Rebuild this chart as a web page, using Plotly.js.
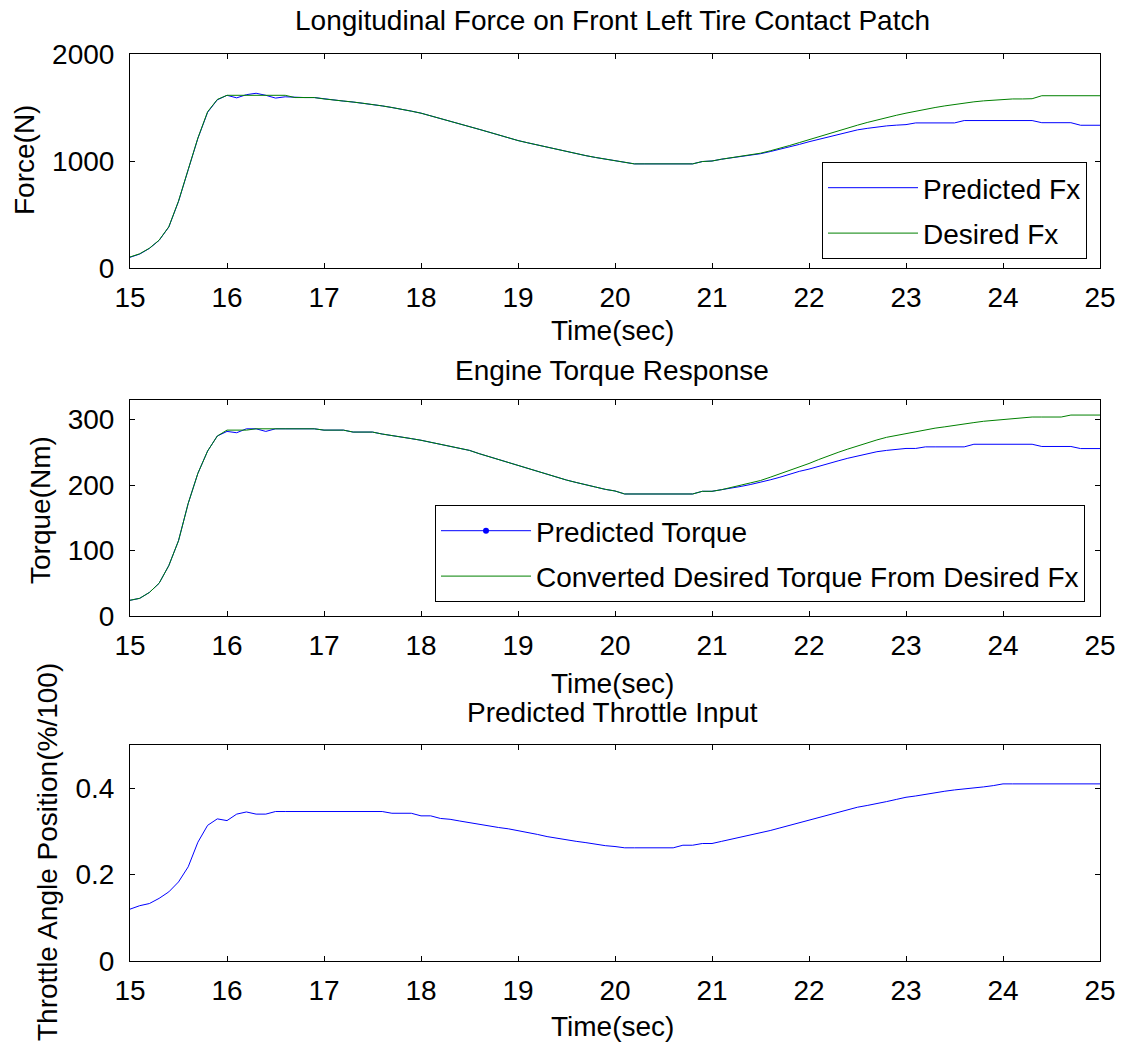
<!DOCTYPE html>
<html><head><meta charset="utf-8">
<script src="https://cdn.plot.ly/plotly-3.0.1.min.js"></script>
<style>html,body{margin:0;padding:0;background:#fff}</style>
</head><body><div id="chart" style="width:1123px;height:1057px"></div>
<script>
const time = [15.0,15.1,15.2,15.3,15.4,15.5,15.6,15.7,15.8,15.9,
16.0,16.1,16.2,16.3,16.4,16.5,16.6,16.7,16.8,16.9,
17.0,17.1,17.2,17.3,17.4,17.5,17.6,17.7,17.8,17.9,
18.0,18.1,18.2,18.3,18.4,18.5,18.6,18.7,18.8,18.9,
19.0,19.1,19.2,19.3,19.4,19.5,19.6,19.7,19.8,19.9,
20.0,20.1,20.2,20.3,20.4,20.5,20.6,20.7,20.8,20.9,
21.0,21.1,21.2,21.3,21.4,21.5,21.6,21.7,21.8,21.9,
22.0,22.1,22.2,22.3,22.4,22.5,22.6,22.7,22.8,22.9,
23.0,23.1,23.2,23.3,23.4,23.5,23.6,23.7,23.8,23.9,
24.0,24.1,24.2,24.3,24.4,24.5,24.6,24.7,24.8,24.9,25.0];

const predictedFx = [100,130,183,258,383,622,918,1212,1455,1572,
1614,1590,1620,1633,1614,1588,1600,1593,1593,1593,
1580,1572,1560,1551,1540,1530,1515,1500,1485,1466,
1447,1423,1398,1373,1348,1322,1296,1270,1243,1217,
1191,1170,1149,1129,1108,1088,1068,1050,1033,1017,
1004,985,973,973,973,973,973,973,973,995,
1000,1017,1030,1038,1050,1068,1088,1108,1130,1155,
1180,1203,1225,1248,1270,1291,1305,1318,1328,1335,
1340,1356,1356,1356,1356,1356,1378,1378,1378,1378,
1378,1378,1378,1378,1358,1358,1358,1358,1334,1334,1334];

const desiredFx = [103,133,185,260,385,625,920,1215,1460,1575,
1614,1614,1614,1614,1614,1614,1614,1593,1593,1593,
1580,1572,1560,1551,1540,1530,1515,1500,1485,1466,
1447,1423,1398,1373,1348,1322,1296,1270,1243,1217,
1191,1170,1149,1129,1108,1088,1068,1050,1033,1017,
1004,985,973,973,973,973,973,973,973,995,
1000,1017,1030,1040,1055,1073,1095,1118,1145,1172,
1200,1228,1255,1282,1308,1335,1360,1384,1406,1427,
1447,1466,1484,1500,1515,1530,1542,1553,1562,1570,
1577,1580,1580,1582,1610,1610,1610,1610,1610,1610,1610];

const predictedTorque = [24,27,36,50,77,115,172,218,252,275,
282,280,286,286,282,286,286,286,286,286,
284,284,284,281,281,281,278,276,274,271,
268.5,265.5,262.5,259.5,256,253,248,243.5,239,234,
229.5,225,221,216,212,207.7,204,200,197,193.5,
191,186.4,186.4,186.4,186.4,186.4,186.4,186.4,186.4,190.5,
190.5,193,195,198,201,204,208,212,217,221,
224.4,229,233,237,241,244.7,248,251,253,255,
256,256,258.4,258.4,258.4,258.4,258.4,262.4,262.4,262.4,
262.4,262.4,262.4,262.4,259,259,259,259,255.8,255.8,255.8];

const desiredTorque = [24,27,36,50,77,115,172,218,252,275,
284,284,284,286,286,286,286,286,286,286,
284,284,284,281,281,281,278,276,274,271,
268.5,265.5,262.5,259.5,256,253,248,243.5,239,234,
229.5,225,221,216,212,207.7,204,200,197,193.5,
191,186.4,186.4,186.4,186.4,186.4,186.4,186.4,186.4,190.5,
190.5,193,197,200,203.5,207,212,217,223,228,
233,239,245,250,255,260,264.5,269,273,276,
279,282,285,287,289,291.5,293.5,295.5,297.5,299,
300.5,302,303,304,304,304,304,307,307,307,307];

const throttle = [0.120,0.128,0.133,0.145,0.160,0.183,0.218,0.275,0.314,0.329,
0.325,0.340,0.345,0.340,0.340,0.346,0.346,0.346,0.346,0.346,
0.346,0.346,0.346,0.346,0.346,0.346,0.346,0.342,0.342,0.342,
0.336,0.336,0.330,0.328,0.324,0.320,0.316,0.313,0.309,0.306,
0.302,0.297,0.293,0.288,0.284,0.280,0.277,0.274,0.270,0.267,
0.265,0.262,0.262,0.262,0.262,0.262,0.262,0.268,0.268,0.272,
0.272,0.277,0.282,0.286,0.291,0.296,0.302,0.308,0.314,0.320,
0.326,0.332,0.338,0.344,0.350,0.356,0.360,0.364,0.369,0.374,
0.379,0.382,0.386,0.389,0.393,0.396,0.398,0.401,0.403,0.406,
0.410,0.410,0.410,0.410,0.410,0.410,0.410,0.410,0.410,0.410,0.410];

const xTicks = [15,16,17,18,19,20,21,22,23,24,25];
const forceTicks = [0,1000,2000];
const torqueTicks = [0,100,200,300];
const throttleTicks = [0,0.2,0.4];

const BLUE = 'rgb(0,0,255)';
const GREEN = 'rgb(0,128,0)';
const FONT = 'Liberation Sans, Arial, sans-serif';
const FS = 28;

const traces = [
  {x: time, y: predictedFx, type:'scatter', mode:'lines', name:'Predicted Fx',
   line:{color:BLUE, width:1}, xaxis:'x', yaxis:'y', legend:'legend', legendgroup:'a'},
  {x: time, y: desiredFx, type:'scatter', mode:'lines', name:'Desired Fx',
   line:{color:GREEN, width:1}, xaxis:'x', yaxis:'y', legend:'legend', legendgroup:'b'},
  {x: time, y: predictedTorque, type:'scatter', mode:'lines', name:'Predicted Torque',
   line:{color:BLUE, width:1}, xaxis:'x2', yaxis:'y2', showlegend:false},
  {x: [null], y: [null], type:'scatter', mode:'lines+markers', name:'Predicted Torque',
   line:{color:BLUE, width:1}, marker:{color:BLUE, size:6}, xaxis:'x2', yaxis:'y2',
   legend:'legend2', legendgroup:'c'},
  {x: time, y: desiredTorque, type:'scatter', mode:'lines', name:'Converted Desired Torque From Desired Fx',
   line:{color:GREEN, width:1}, xaxis:'x2', yaxis:'y2', legend:'legend2', legendgroup:'d'},
  {x: time, y: throttle, type:'scatter', mode:'lines', name:'Throttle',
   line:{color:BLUE, width:1}, xaxis:'x3', yaxis:'y3', showlegend:false}
];

const W = 1123, H = 1057;
const xd = [130/W, 1100/W];
function yd(top, bottom){ return [(H-bottom)/H, (H-top)/H]; }

const base = {showline:true, linecolor:'black', linewidth:1, mirror:'ticks',
  ticks:'inside', ticklen:5, tickcolor:'black', tickwidth:1, showgrid:false, zeroline:false,
  tickfont:{family:FONT, size:FS, color:'black'}, fixedrange:true};

const xbase = Object.assign({}, base, {range:[15,25], tickvals:xTicks, ticklabelstandoff:4});
const ybase = Object.assign({}, base, {ticklabelstandoff:9});

function ann(text, xpx, ypx, angle){
  return {text:text, xref:'paper', yref:'paper', x:xpx/W, y:(H-ypx)/H,
    xanchor:'center', yanchor:'middle', showarrow:false, textangle:angle||0,
    font:{family:FONT, size:FS, color:'black'}};
}

const legendBase = {bordercolor:'black', borderwidth:1, bgcolor:'white',
  font:{family:FONT, size:FS, color:'black'}, xanchor:'right', yanchor:'bottom',
  itemwidth:90, tracegroupgap:6, traceorder:'grouped', itemclick:false, itemdoubleclick:false};

const layout = {
  width: W, height: H, margin:{l:0,r:0,t:0,b:0},
  paper_bgcolor:'white', plot_bgcolor:'white', showlegend:true,
  font:{family:FONT, size:FS, color:'black'},
  xaxis: Object.assign({}, xbase, {domain:xd, anchor:'y'}),
  yaxis: Object.assign({}, ybase, {domain:yd(54,268), range:[0,2000], tickvals:forceTicks, anchor:'x'}),
  xaxis2: Object.assign({}, xbase, {domain:xd, anchor:'y2'}),
  yaxis2: Object.assign({}, ybase, {domain:yd(400,616), range:[0,330], tickvals:torqueTicks, anchor:'x2'}),
  xaxis3: Object.assign({}, xbase, {domain:xd, anchor:'y3'}),
  yaxis3: Object.assign({}, ybase, {domain:yd(745,961), range:[0,0.5], tickvals:throttleTicks, anchor:'x3'}),
  legend: Object.assign({}, legendBase, {x:1087/W, y:(H-259)/H}),
  legend2: Object.assign({}, legendBase, {x:1085/W, y:(H-602)/H}),
  annotations: [
    ann('Longitudinal Force on Front Left Tire Contact Patch', 612, 20),
    ann('Engine Torque Response', 612, 370),
    ann('Predicted Throttle Input', 612, 712),
    ann('Time(sec)', 612, 330),
    ann('Time(sec)', 612, 683),
    ann('Time(sec)', 612, 1026),
    ann('Force(N)', 24, 160, -90),
    ann('Torque(Nm)', 40, 510, -90),
    ann('Throttle Angle Position(%/100)', 47, 852, -90)
  ]
};

Plotly.newPlot('chart', traces, layout, {displayModeBar:false, staticPlot:true});
</script>
</body></html>
